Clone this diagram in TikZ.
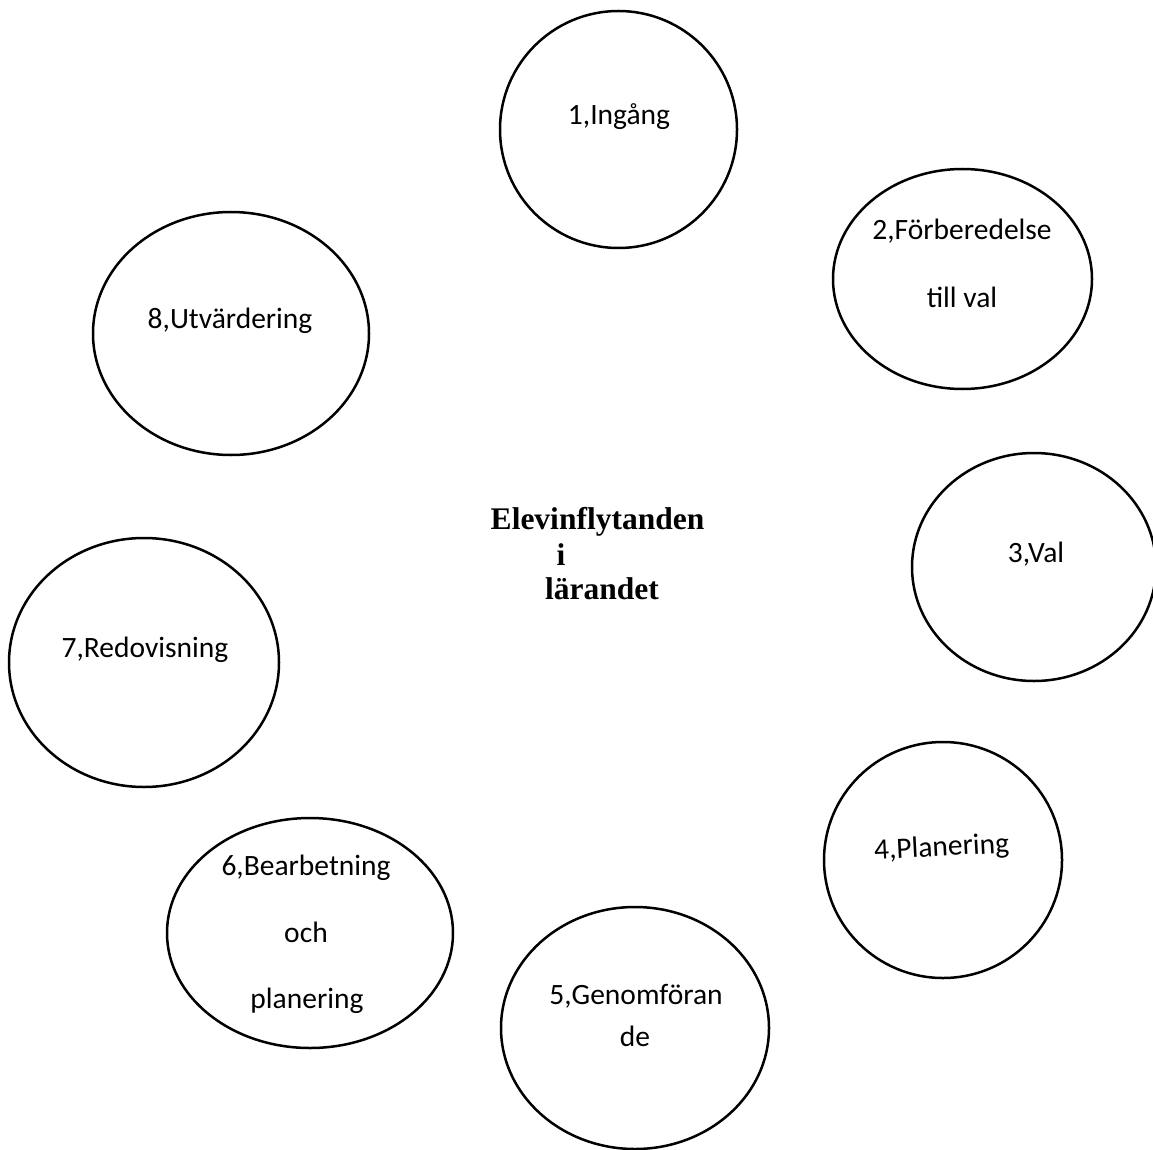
\documentclass[tikz,border=0pt]{standalone}
\usepackage{fontspec}
\setmainfont{Carlito}
\newfontfamily\titlefont{Liberation Serif}
\usetikzlibrary{shapes.geometric}
\begin{document}
\begin{tikzpicture}[x=1pt,y=-1pt,
  bubble/.style={draw=black, line width=2.5pt, ellipse, inner sep=0pt, outer sep=0pt},
  lbl/.style={anchor=base, inner sep=0pt, font=\fontsize{29.5}{34}\selectfont},
  title/.style={anchor=base, inner sep=0pt, align=center, font=\titlefont\bfseries\fontsize{31.5}{35}\selectfont}]
\useasboundingbox (0,0) rectangle (1153,1150);
% ellipses
\node[bubble, minimum width=237pt, minimum height=237pt] (e1) at (618.5,129.5) {};
\node[bubble, minimum width=259pt, minimum height=220pt] (e2) at (962.5,279) {};
\node[bubble, minimum width=244pt, minimum height=228pt] (e3) at (1034,567) {};
\node[bubble, minimum width=238pt, minimum height=236pt] (e4) at (943,860) {};
\node[bubble, minimum width=268pt, minimum height=242pt] (e5) at (635,1028) {};
\node[bubble, minimum width=286pt, minimum height=230pt] (e6) at (310,933) {};
\node[bubble, minimum width=270pt, minimum height=249pt] (e7) at (144,662.5) {};
\node[bubble, minimum width=276pt, minimum height=243pt] (e8) at (231,333.5) {};
% labels
\node[lbl] (t1) at (619,125) {1,Ingång};
\node[lbl] (t2a) at (962,240) {2,Förberedelse};
\node[lbl] (t2b) at (962,307) {till val};
\node[lbl] (t3) at (1036,562) {3,Val};
\node[lbl, rotate=3] (t4) at (942,856) {4,Planering};
\node[lbl] (t5a) at (636,1004) {5,Genomföran};
\node[lbl] (t5b) at (635,1046) {de};
\node[lbl] (t6a) at (306,875) {6,Bearbetning};
\node[lbl] (t6b) at (306,942) {och};
\begin{scope}
\clip (200,960) rectangle (420,1012);
\node[lbl] (t6c) at (307,1008) {planering};
\end{scope}
\node[lbl] (t7) at (145,657) {7,Redovisning};
\node[lbl] (t8) at (230,328) {8,Utvärdering};
% centre title
\node[title] (c1) at (597.5,529) {Elevinflytanden};
\node[title] (c2) at (561,565) {i};
\node[title] (c3) at (602,599) {lärandet};
\end{tikzpicture}
\end{document}
